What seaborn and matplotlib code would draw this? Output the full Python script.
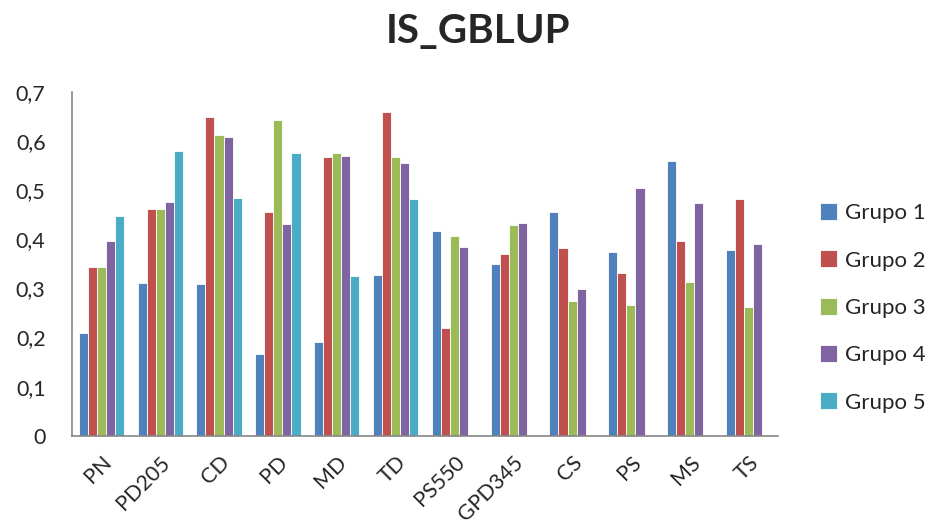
import pandas as pd
import numpy as np
import seaborn as sns
import matplotlib.pyplot as plt

# Values
categories = ['PN', 'PD205', 'CD', 'PD', 'MD', 'TD', 'PS550', 'GPD345', 'CS', 'PS', 'MS', 'TS']
grupo1 = [0.210, 0.311, 0.310, 0.166, 0.191, 0.327, 0.417, 0.350, 0.456, 0.375, 0.559, 0.378]
grupo2 = [0.343, 0.462, 0.650, 0.456, 0.568, 0.659, 0.219, 0.370, 0.383, 0.331, 0.396, 0.483]
grupo3 = [0.343, 0.461, 0.613, 0.643, 0.576, 0.567, 0.407, 0.429, 0.274, 0.266, 0.313, 0.263]
grupo4 = [0.397, 0.476, 0.609, 0.432, 0.569, 0.555, 0.384, 0.433, 0.298, 0.504, 0.475, 0.390]
grupo5 = [0.447, 0.580, 0.485, 0.575, 0.325, 0.482, np.nan, np.nan, np.nan, np.nan, np.nan, np.nan]
groups = ['Grupo 1', 'Grupo 2', 'Grupo 3', 'Grupo 4', 'Grupo 5']
colors = ['#4F81BD', '#C0504D', '#9BBB59', '#8064A2', '#4BACC6']

# Long format table for seaborn
df = pd.DataFrame({'cat': categories, 'Grupo 1': grupo1, 'Grupo 2': grupo2,
                   'Grupo 3': grupo3, 'Grupo 4': grupo4, 'Grupo 5': grupo5})
long_df = df.melt(id_vars='cat', var_name='grupo', value_name='valor')

sns.set_style('white')
plt.rcParams['font.family'] = ['Lato', 'DejaVu Sans']

fig = plt.figure(figsize=(9.34, 5.32), dpi=100)
ax = fig.add_axes([0.077, 0.181, 0.756, 0.646])

sns.barplot(data=long_df, x='cat', y='valor', hue='grupo', hue_order=groups,
            order=categories, palette=colors, saturation=1, width=0.77,
            edgecolor='white', linewidth=0.6, ax=ax)

ax.set_ylim(0, 0.7)
ax.set_xlim(-0.5, len(categories) - 0.5)
yt = np.arange(0, 0.71, 0.1)
ax.set_yticks(yt)
ax.set_yticklabels(['0'] + [f'{v:.1f}'.replace('.', ',') for v in yt[1:]], fontsize=15.5)
ax.set_xticks(range(len(categories)))
ax.set_xticklabels(categories, rotation=45, ha='right', rotation_mode='anchor', fontsize=15.5)
ax.tick_params(axis='y', length=0, pad=19)
ax.tick_params(axis='x', length=0, pad=12)
ax.set_xlabel('')
ax.set_ylabel('')

for s in ['top', 'right']:
    ax.spines[s].set_visible(False)
for s in ['left', 'bottom']:
    ax.spines[s].set_color('#868686')
    ax.spines[s].set_linewidth(1.2)

fig.text(0.512, 0.94, 'IS_GBLUP', ha='center', va='center', fontsize=29, fontweight='bold')

ax.legend(loc='center left', bbox_to_anchor=(1.059, 0.372), frameon=False, fontsize=16,
          handlelength=0.8, handleheight=0.8, labelspacing=1.22, handletextpad=0.35,
          borderaxespad=0, borderpad=0)

plt.savefig('out.png', dpi=100)
